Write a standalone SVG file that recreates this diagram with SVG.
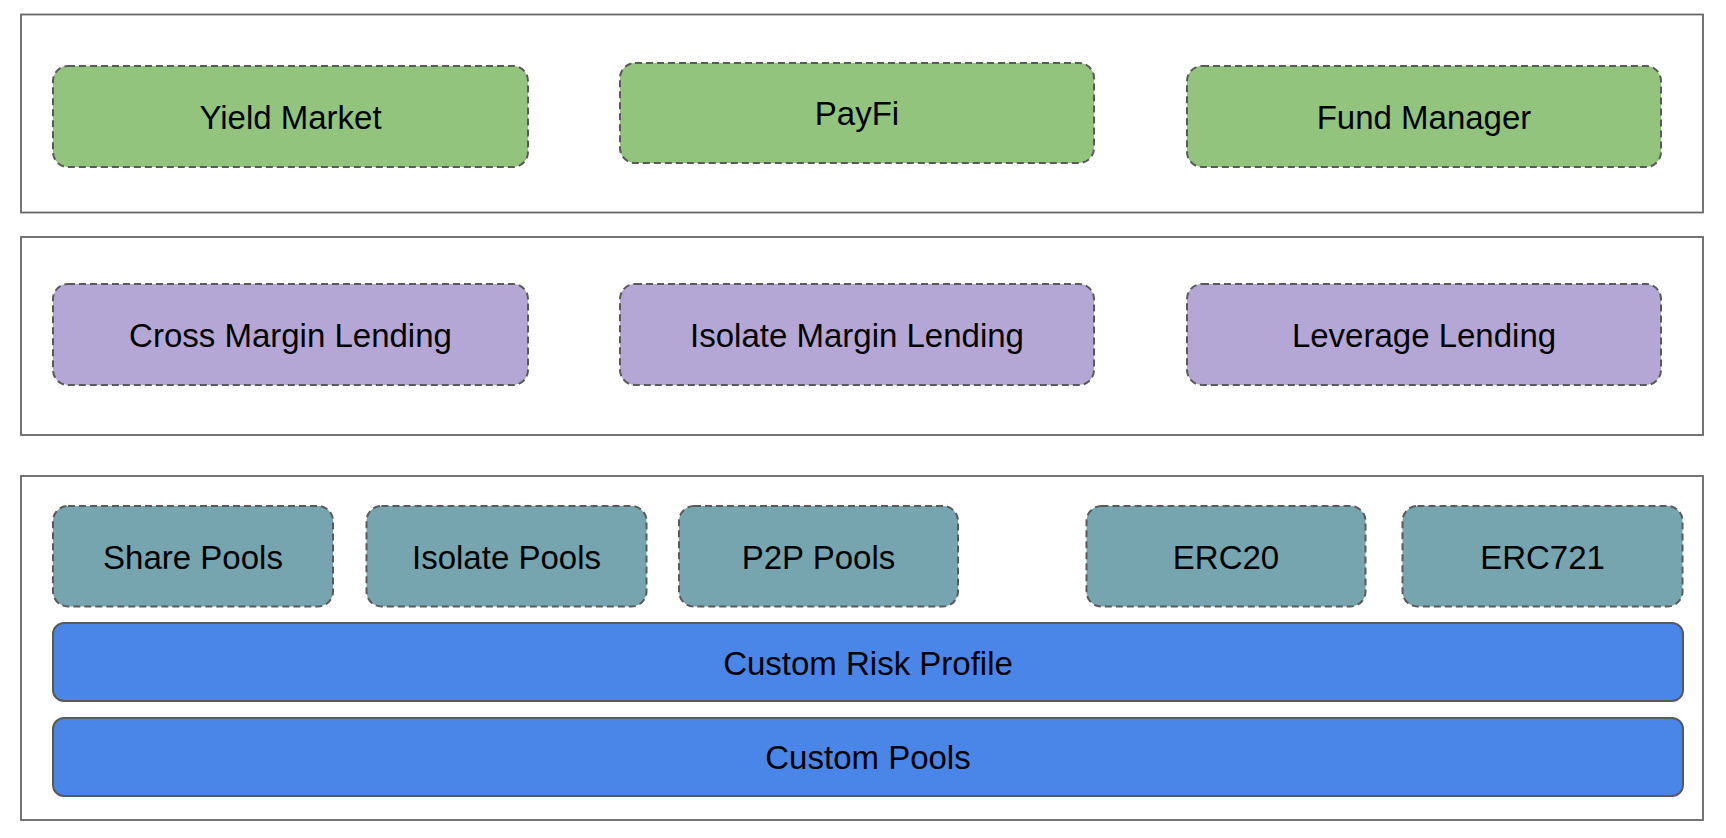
<svg xmlns="http://www.w3.org/2000/svg" width="1726" height="838" viewBox="0 0 1726 838">
<style>
.layer{fill:#ffffff;stroke:#666666;stroke-width:1.8}
.n{stroke:#5a5a5a;stroke-width:2;stroke-dasharray:7,4}
.g{fill:#93c47d}
.p{fill:#b4a7d6}
.t{fill:#76a5af}
.b{fill:#4a86e8;stroke:#5a5a5a;stroke-width:2}
text{font-family:"Liberation Sans",Arial,sans-serif;font-size:33px;fill:#000000;text-anchor:middle}
</style>
<rect width="1726" height="838" fill="#ffffff"/>
<g id="layers">
<rect class="layer" x="21" y="14.5" width="1682" height="198"/>
<rect class="layer" x="21" y="237" width="1682" height="198"/>
<rect class="layer" x="21" y="476" width="1682" height="344"/>
</g>
<g id="yield-market"><rect class="n g" x="53" y="66" width="475" height="101" rx="15"/><text x="290.5" y="129">Yield Market</text></g>
<g id="payfi"><rect class="n g" x="620" y="63" width="474" height="100" rx="15"/><text x="857" y="125">PayFi</text></g>
<g id="fund-manager"><rect class="n g" x="1187" y="66" width="474" height="101" rx="15"/><text x="1424" y="129">Fund Manager</text></g>
<g id="cross-margin"><rect class="n p" x="53" y="284" width="475" height="101" rx="15"/><text x="290.5" y="347">Cross Margin Lending</text></g>
<g id="isolate-margin"><rect class="n p" x="620" y="284" width="474" height="101" rx="15"/><text x="857" y="347">Isolate Margin Lending</text></g>
<g id="leverage"><rect class="n p" x="1187" y="284" width="474" height="101" rx="15"/><text x="1424" y="347">Leverage Lending</text></g>
<g id="share-pools"><rect class="n t" x="53" y="506" width="280" height="100.5" rx="15"/><text x="193" y="569">Share Pools</text></g>
<g id="isolate-pools"><rect class="n t" x="366.5" y="506" width="280" height="100.5" rx="15"/><text x="506.5" y="569">Isolate Pools</text></g>
<g id="p2p-pools"><rect class="n t" x="679" y="506" width="279" height="100.5" rx="15"/><text x="818.5" y="569">P2P Pools</text></g>
<g id="erc20"><rect class="n t" x="1086.5" y="506" width="279" height="100.5" rx="15"/><text x="1226" y="569">ERC20</text></g>
<g id="erc721"><rect class="n t" x="1402.5" y="506" width="280" height="100.5" rx="15"/><text x="1542.5" y="569">ERC721</text></g>
<g id="custom-risk-profile"><rect class="b" x="53" y="623" width="1630" height="78" rx="11"/><text x="868" y="674.5">Custom Risk Profile</text></g>
<g id="custom-pools"><rect class="b" x="53" y="718" width="1630" height="78" rx="11"/><text x="868" y="769">Custom Pools</text></g>
<g id="connectors"></g>
</svg>
